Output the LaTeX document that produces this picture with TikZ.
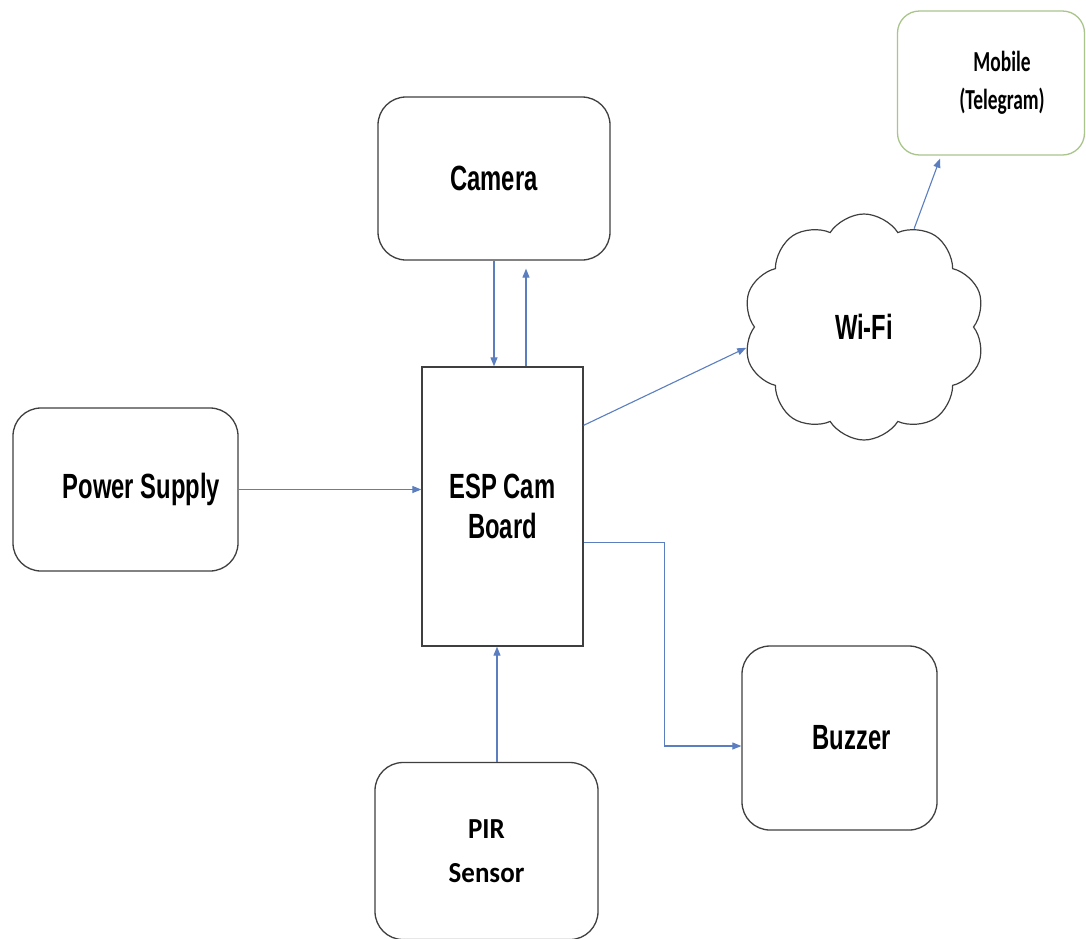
\documentclass[tikz,border=0pt]{standalone}
\usepackage{fontspec}
\usetikzlibrary{shapes.symbols,arrows.meta,calc}
\newfontfamily\arialn[FakeStretch=0.68]{Liberation Sans}
\newfontfamily\calibrin[FakeStretch=0.67]{Carlito}
\newfontfamily\calibrif[FakeStretch=0.93]{Carlito}
\definecolor{boxline}{HTML}{3F3F3F}
\definecolor{arrowc}{HTML}{5A7EC0}
\definecolor{mobline}{HTML}{A9C58C}
\begin{document}
\begin{tikzpicture}[x=1pt,y=-1pt,
  rbox/.style={draw=boxline, line width=1.3pt, rounded corners=28pt, align=center, inner sep=0pt},
  labA/.style={font=\arialn\bfseries\fontsize{35}{39.5}\selectfont},
  conn/.style={draw=arrowc, line width=1.1pt, -{Triangle[length=9pt,width=7pt]}}]
\fill[white] (0,0) rectangle (1086,938);
\useasboundingbox (0,0) rectangle (1086,938);

\node[rbox, labA, minimum width=232pt, minimum height=163pt] (cam) at (494,178.5) {Camera};
\node[rbox, draw=mobline, rounded corners=22pt, minimum width=187pt, minimum height=144pt,
      font=\calibrin\bfseries\fontsize{29}{38}\selectfont] (mob) at (991,83)
      {\hspace*{22pt}Mobile\\\hspace*{22pt}(Telegram)};
\node[draw=boxline, line width=1.3pt, align=center, inner sep=0pt, labA,
      minimum width=161pt, minimum height=279pt] (esp) at (502.5,506.5) {ESP Cam\\Board};
\node[rbox, labA, minimum width=225pt, minimum height=163pt] (ps) at (125.5,489.5) {\hspace*{32pt}Power Supply};
\node[rbox, labA, minimum width=195pt, minimum height=184pt] (buz) at (839.5,738) {\hspace*{24pt}Buzzer};
\node[rbox, minimum width=223pt, minimum height=177pt,
      font=\calibrif\bfseries\fontsize{29}{44}\selectfont] (pir) at (486.5,851) {PIR\\Sensor};
\node[cloud, draw=boxline, line width=1.2pt, cloud puffs=10, cloud puff arc=115, cloud ignores aspect,
      minimum width=242pt, minimum height=226pt, labA] (wifi) at (864,327) {Wi-Fi};

\draw[conn] (cam.south) -- (cam.south |- esp.north);
\draw[conn] ([xshift=32pt]cam.south |- esp.north) -- ([xshift=32pt,yshift=-8pt]cam.south);
\draw[conn] (ps.east) -- (ps.east -| esp.west);
\draw[conn] (esp.45.7) -- (wifi.190);
\draw[conn] (wifi.63) -- ([xshift=-51pt,yshift=-3pt]mob.south);
\draw[conn] ([yshift=-36pt]esp.east) -- ++(80.5pt,0) |- ([yshift=-8pt]buz.west);
\draw[conn] ([xshift=10.5pt]pir.north) -- ([xshift=10.5pt]pir.north |- esp.south);
\end{tikzpicture}
\end{document}
